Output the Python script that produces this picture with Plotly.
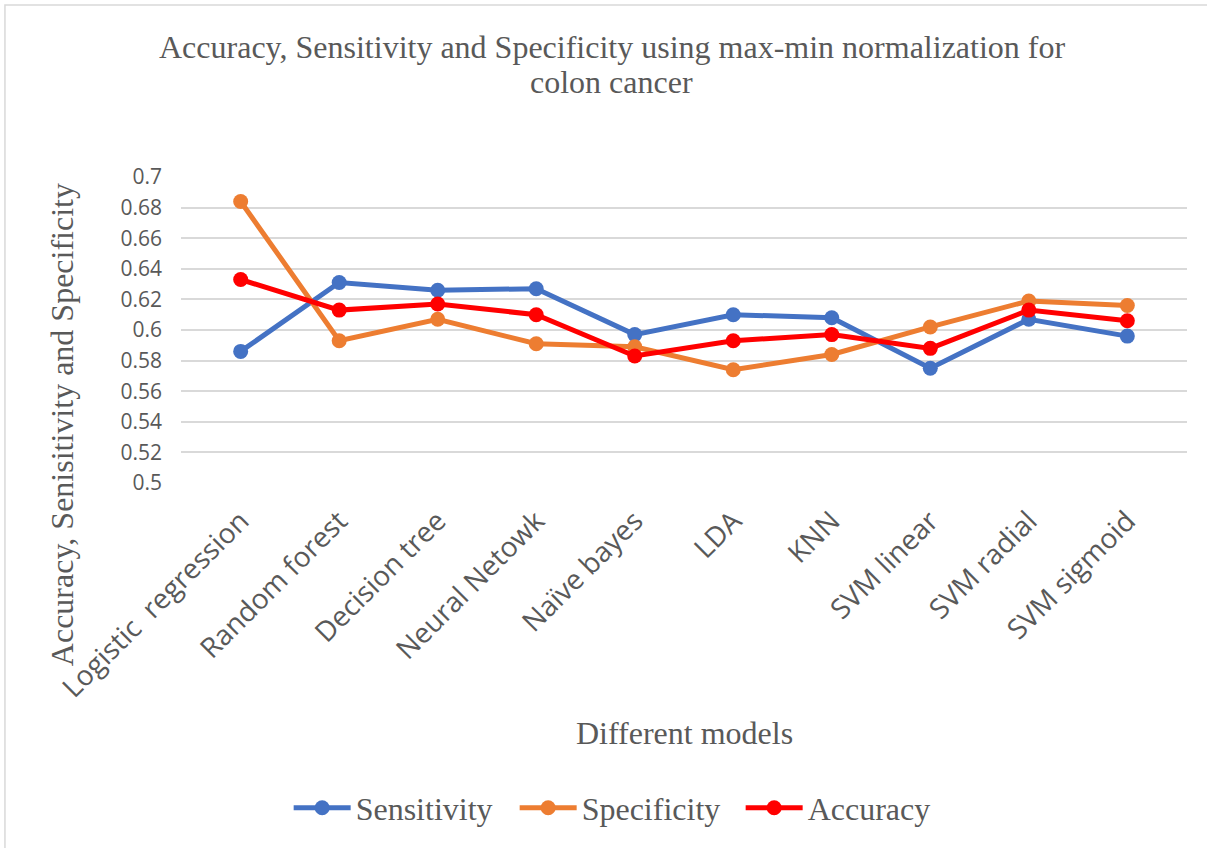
import plotly.graph_objects as go

models = ["Logistic  regression", "Random forest", "Decision tree", "Neural Netowk",
          "Naïve bayes", "LDA", "KNN", "SVM linear", "SVM radial", "SVM sigmoid"]
sensitivity = [0.586, 0.631, 0.626, 0.627, 0.597, 0.610, 0.608, 0.575, 0.607, 0.596]
specificity = [0.684, 0.593, 0.607, 0.591, 0.589, 0.574, 0.584, 0.602, 0.619, 0.616]
accuracy = [0.633, 0.613, 0.617, 0.610, 0.583, 0.593, 0.597, 0.588, 0.613, 0.606]
y_ticks = [0.5, 0.52, 0.54, 0.56, 0.58, 0.6, 0.62, 0.64, 0.66, 0.68, 0.7]
y_tick_text = ["0.5", "0.52", "0.54", "0.56", "0.58", "0.6", "0.62", "0.64", "0.66", "0.68", "0.7"]

serif = "Liberation Serif, Times New Roman, serif"
sans = "Open Sans, Liberation Sans, sans-serif"
grey = "#595959"

fig = go.Figure()
for name, vals, color in [("Sensitivity", sensitivity, "#4472C4"),
                          ("Specificity", specificity, "#ED7D31"),
                          ("Accuracy", accuracy, "#FF0000")]:
    fig.add_trace(go.Scatter(
        x=models, y=vals, name=name, mode="lines+markers",
        line=dict(color=color, width=5),
        marker=dict(color=color, size=15),
    ))

fig.update_layout(
    width=1207, height=848,
    margin=dict(l=181, r=20, t=177, b=365),
    paper_bgcolor="white", plot_bgcolor="white",
    showlegend=True,
    legend=dict(orientation="h", x=0.444, xanchor="center", y=-1.062, yanchor="middle",
                font=dict(family=serif, size=32, color=grey),
                itemwidth=57, entrywidth=154, entrywidthmode="pixels", tracegroupgap=0),
)

fig.update_xaxes(
    type="category", tickangle=-45, showgrid=False, showline=False, ticks="",
    ticklabelstandoff=15,
    tickfont=dict(family=sans, size=28, color=grey),
)
fig.update_yaxes(
    range=[0.5, 0.7], tickvals=y_ticks, ticktext=y_tick_text,
    showgrid=True, gridcolor="#D9D9D9", gridwidth=1.5, zeroline=False,
    showline=False, ticks="", ticklabelstandoff=18,
    tickfont=dict(family=sans, size=21, color=grey),
)

# two-line chart title
title_font = dict(family=serif, size=32, color=grey)
fig.add_annotation(text="Accuracy, Sensitivity and Specificity using max-min normalization for",
                   xref="paper", yref="paper", x=0.428, y=1.425,
                   xanchor="center", yanchor="middle", showarrow=False, font=title_font)
fig.add_annotation(text="colon cancer", xref="paper", yref="paper", x=0.428, y=1.31,
                   xanchor="center", yanchor="middle", showarrow=False, font=title_font)

# axis titles
fig.add_annotation(text="Different models", xref="paper", yref="paper",
                   x=0.5, y=-0.817, xanchor="center", yanchor="middle", showarrow=False,
                   font=title_font)
fig.add_annotation(text="Accuracy, Senisitivity and Specificity", xref="paper", yref="paper",
                   x=-0.118, y=0.19, xanchor="center", yanchor="middle", textangle=-90,
                   showarrow=False, font=title_font)

# chart-area frame
fig.add_shape(type="rect", xref="paper", yref="paper",
              x0=-0.175, x1=1.1, y0=-1.4, y1=1.562,
              line=dict(color="#D9D9D9", width=1.5), fillcolor="rgba(0,0,0,0)", layer="below")

fig.write_html("out.html")
